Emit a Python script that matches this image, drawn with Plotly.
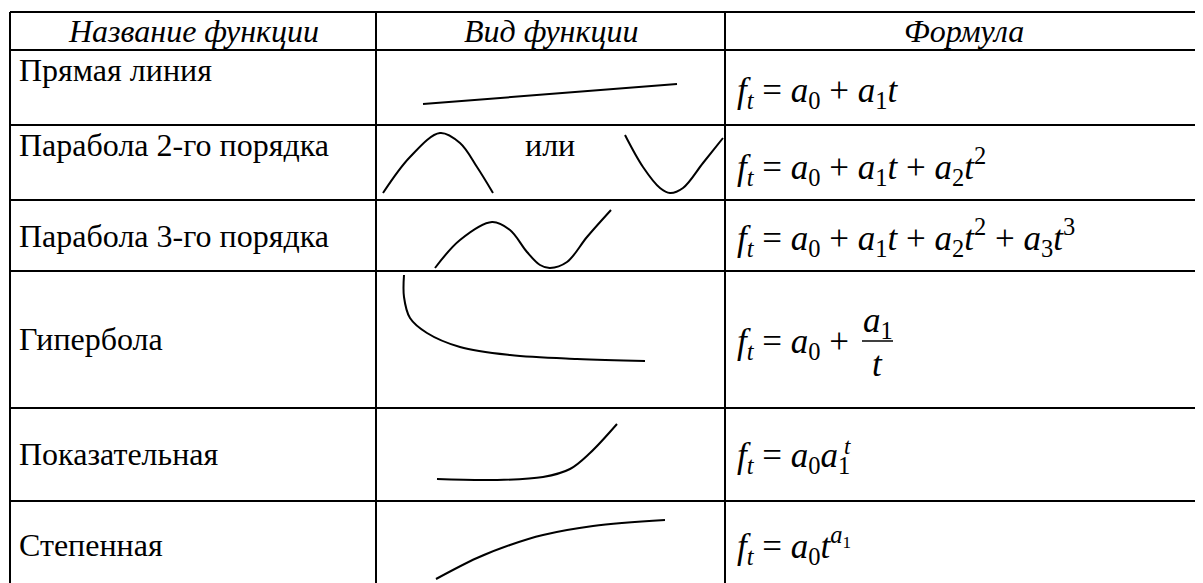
import plotly.graph_objects as go

# column headers
headers = ["Название функции", "Вид функции", "Формула"]

# row labels
names = ["Прямая линия", "Парабола 2-го порядка", "Парабола 3-го порядка",
         "Гипербола", "Показательная", "Степенная"]

# formulas (plotly rich text)
formulas = [
    "<i>f</i><sub><i>t</i></sub> = <i>a</i><sub>0</sub> + <i>a</i><sub>1</sub><i>t</i>",
    "<i>f</i><sub><i>t</i></sub> = <i>a</i><sub>0</sub> + <i>a</i><sub>1</sub><i>t</i> + <i>a</i><sub>2</sub><i>t</i><sup>2</sup>",
    "<i>f</i><sub><i>t</i></sub> = <i>a</i><sub>0</sub> + <i>a</i><sub>1</sub><i>t</i> + <i>a</i><sub>2</sub><i>t</i><sup>2</sup> + <i>a</i><sub>3</sub><i>t</i><sup>3</sup>",
    "<i>f</i><sub><i>t</i></sub> = <i>a</i><sub>0</sub> +",
    "<i>f</i><sub><i>t</i></sub> = <i>a</i><sub>0</sub><i>a</i><sub>1</sub>",
    "<i>f</i><sub><i>t</i></sub> = <i>a</i><sub>0</sub><i>t</i><sup><i>a</i><sub>1</sub></sup>",
]

# sketches of each function (pixel space)
line_x = [423, 677]
line_y = [104, 84]
hump_x = [383, 410, 440, 460, 477, 493]
hump_y = [193, 157, 133, 143, 167, 193]
cup_x = [625, 643, 660, 670, 683, 703, 723]
cup_y = [135, 167, 188, 193, 188, 163, 138]
cubic_x = [435, 460, 492, 510, 527, 540, 550, 567, 587, 611]
cubic_y = [268, 240, 222, 230, 252, 265, 268, 262, 237, 210]
hyper_x = [404, 404, 410, 427, 460, 510, 577, 645]
hyper_y = [275, 297, 318, 333, 347, 355, 359, 361]
expo_x = [437, 493, 543, 570, 590, 617]
expo_y = [479, 480, 477, 469, 453, 424]
power_x = [436, 477, 510, 543, 593, 665]
power_y = [579, 558, 545, 535, 526, 520]

W, H = 1203, 583
OFF = 8  # page body margin
col_x = [10, 376, 725]
row_y = [12, 50, 125, 200, 271, 408, 501]
name_y = [70, 145, 236, 339, 454, 545]
formula_y = [92, 166, 237, 343, 457, 545]
FONT = "Liberation Serif"
TXT = 32
FML = 35

fig = go.Figure()

curves = [(line_x, line_y), (hump_x, hump_y), (cup_x, cup_y), (cubic_x, cubic_y),
          (hyper_x, hyper_y), (expo_x, expo_y), (power_x, power_y)]
for cx, cy in curves:
    fig.add_trace(go.Scatter(x=cx, y=cy, mode='lines',
                             line=dict(color='black', width=2,
                                       shape='spline' if len(cx) > 2 else 'linear'),
                             hoverinfo='skip', showlegend=False))

shapes = []
for y in row_y:
    shapes.append(dict(type='line', x0=col_x[0], x1=W, y0=y, y1=y,
                       line=dict(color='black', width=2)))
for x in col_x:
    shapes.append(dict(type='line', x0=x, x1=x, y0=row_y[0], y1=H,
                       line=dict(color='black', width=2)))
# fraction bar for hyperbola
shapes.append(dict(type='line', x0=862, x1=893, y0=341, y1=341,
                   line=dict(color='black', width=1.5)))

annotations = []
head_cx = [(col_x[0] + col_x[1]) / 2, (col_x[1] + col_x[2]) / 2, (col_x[2] + W) / 2]
for cx, h in zip(head_cx, headers):
    annotations.append(dict(x=cx, y=31, text=f"<i>{h}</i>", showarrow=False,
                            xanchor='center', yanchor='middle',
                            font=dict(family=FONT, size=TXT, color='black')))
for ny, n in zip(name_y, names):
    annotations.append(dict(x=17, y=ny, text=n, showarrow=False,
                            xanchor='left', yanchor='middle',
                            font=dict(family=FONT, size=TXT, color='black')))
annotations.append(dict(x=550, y=145, text="или", showarrow=False,
                        xanchor='center', yanchor='middle',
                        font=dict(family=FONT, size=TXT, color='black')))
for fy, f in zip(formula_y, formulas):
    annotations.append(dict(x=735, y=fy, text=f, showarrow=False,
                            xanchor='left', yanchor='middle',
                            font=dict(family=FONT, size=FML, color='black')))
# numerator / denominator of the hyperbola formula
annotations.append(dict(x=878, y=322, text="<i>a</i><sub>1</sub>", showarrow=False,
                        xanchor='center', yanchor='middle',
                        font=dict(family=FONT, size=FML, color='black')))
annotations.append(dict(x=877, y=364, text="<i>t</i>", showarrow=False,
                        xanchor='center', yanchor='middle',
                        font=dict(family=FONT, size=FML, color='black')))
# superscript t stacked over the subscript 1 of the exponential formula
annotations.append(dict(x=842, y=446, text="<i>t</i>", showarrow=False,
                        xanchor='left', yanchor='middle',
                        font=dict(family=FONT, size=23, color='black')))

fig.update_layout(
    width=W - OFF, height=H - OFF,
    margin=dict(l=0, r=0, t=0, b=0),
    plot_bgcolor='white', paper_bgcolor='white',
    xaxis=dict(range=[OFF, W], visible=False, fixedrange=True),
    yaxis=dict(range=[H, OFF], visible=False, fixedrange=True),
    shapes=shapes, annotations=annotations,
    showlegend=False,
)

fig.write_html("out.html")
